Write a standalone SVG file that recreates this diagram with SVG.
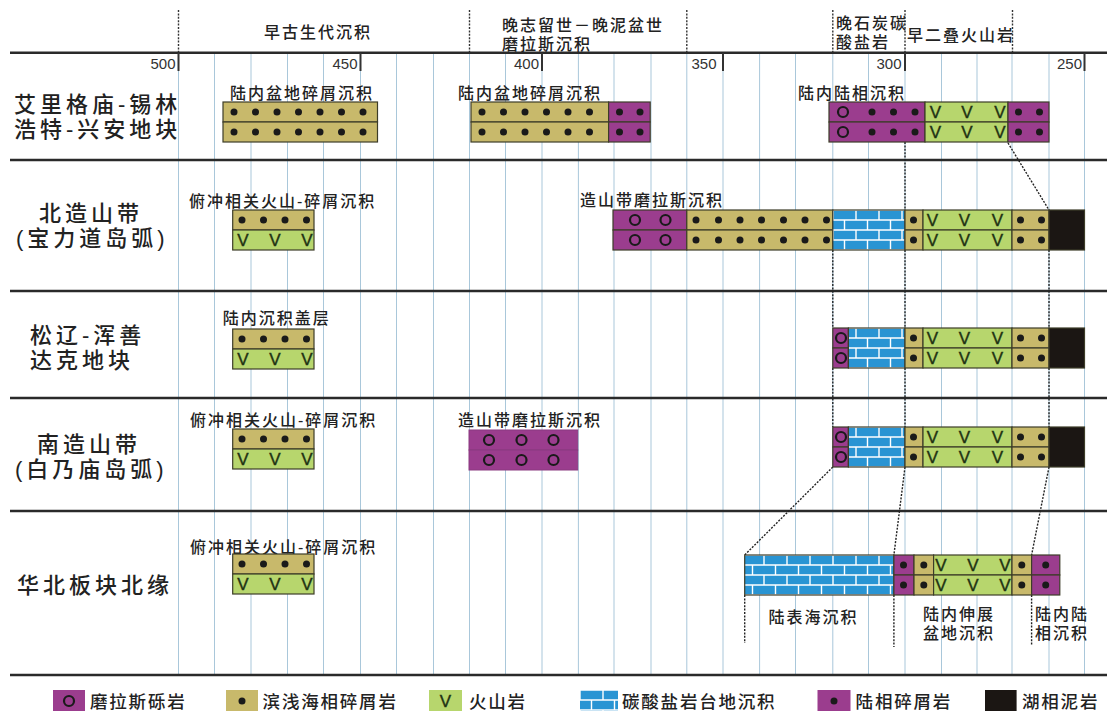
<svg xmlns="http://www.w3.org/2000/svg" xmlns:xlink="http://www.w3.org/1999/xlink" width="1107" height="711" viewBox="0 0 1107 711">
<style>
.grid{stroke:#a9c7da;stroke-width:1}
.sep{stroke:#2a2a2a;stroke-width:2.5}
.hdiv{stroke:#333;stroke-width:1.4;stroke-dasharray:2 1.4;fill:none}
.conn{stroke:#222;stroke-width:1.4;stroke-dasharray:2 1.4;fill:none}
.tick{stroke:#333;stroke-width:2}
.cell{stroke:#3d3d28;stroke-width:1.2}
.p{fill:#9b3d8e}.o{fill:#c8b96b}.g{fill:#b7d66d}.b{fill:url(#brick)}.k{fill:#1b1613}
.v{font-family:"Liberation Sans",Arial,sans-serif;font-size:17px;fill:#1f3313;stroke:#1f3313;stroke-width:0.4;text-anchor:middle}
.lbl{font-family:"Liberation Sans","Noto Sans CJK SC",sans-serif;font-size:16px;font-weight:500;letter-spacing:2px;fill:#222}
.row{font-family:"Liberation Sans","Noto Sans CJK SC",sans-serif;font-size:22px;font-weight:500;letter-spacing:4px;fill:#222}
.leg{font-family:"Liberation Sans","Noto Sans CJK SC",sans-serif;font-size:17.5px;font-weight:500;letter-spacing:1.8px;fill:#222}
.num{font-family:"Liberation Sans",Arial,sans-serif;font-size:15px;fill:#333;text-anchor:end}
</style>
<defs>
<pattern id="brick" patternUnits="userSpaceOnUse" x="0" y="-5" width="23" height="20">
<rect x="0" y="0" width="23" height="20" fill="#2994d3"/>
<path d="M0 5H23M0 15H23M5 5V15M16.5 15V20M16.5 0V5" stroke="#ffffff" stroke-width="1.4" fill="none"/>
</pattern>
<circle id="dot" cx="0" cy="0" r="3.5" fill="#1a1a1a"/>
<circle id="ring" cx="0" cy="0" r="5" fill="none" stroke="#1a1a1a" stroke-width="2.2"/>
</defs>
<rect x="0" y="0" width="1107" height="711" fill="#ffffff"/>

<g id="grid">
<path class="grid" d="M178.5 53V675M214.5 53V675M251 53V675M287.5 53V675M323.5 53V675M360.5 53V675M396.5 53V675M433.5 53V675M469.5 53V675M505.5 53V675M542 53V675M578.4 53V675M614 53V675M651 53V675M686.8 53V675M723 53V675M759.6 53V675M795.5 53V675M832.8 53V675M868.5 53V675M905 53V675M941.5 53V675M977 53V675M1012 53V675M1049 53V675M1084.5 53V675"/>
<path class="hdiv" d="M178.5 10V53M469.5 10V53M686.8 10V53M832.8 10V53M905 10V53M1012.5 10V53"/>
<path class="sep" d="M10 52.7H1107M10 160H1107M10 291H1107M10 398H1107M10 511H1107M10 675H1107"/>
<path class="tick" d="M178.5 53V71M360.5 53V71M542 53V71M723 53V71M905 53V71M1084.5 53V71"/>
<text class="num" x="175.5" y="68.5">500</text>
<text class="num" x="357.5" y="68.5">450</text>
<text class="num" x="539" y="68.5">400</text>
<text class="num" x="716.5" y="68.5">350</text>
<text class="num" x="901.5" y="68.5">300</text>
<text class="num" x="1082" y="68.5">250</text>
</g>

<g id="header">
<text class="lbl" x="264" y="38">早古生代沉积</text>
<text class="lbl" x="502" y="31">晚志留世－晚泥盆世<tspan x="502" dy="19">磨拉斯沉积</tspan></text>
<text class="lbl" x="836" y="29">晚石炭碳<tspan x="836" dy="19">酸盐岩</tspan></text>
<text class="lbl" x="907" y="41">早二叠火山岩</text>
</g>

<g id="row-labels">
<text class="row" x="14" y="112">艾里格庙-锡林<tspan x="14" dy="25">浩特-兴安地块</tspan></text>
<text class="row" x="39" y="221">北造山带<tspan x="16" dy="25">(宝力道岛弧)</tspan></text>
<text class="row" x="30" y="343">松辽-浑善<tspan x="30" dy="25">达克地块</tspan></text>
<text class="row" x="37" y="452">南造山带<tspan x="15" dy="25">(白乃庙岛弧)</tspan></text>
<text class="row" x="17" y="593">华北板块北缘</text>
</g>

<g id="connectors">
<path class="conn" d="M1008 143L1049 210M1049 250V328M1049 368V427M1049 467L1031.6 555M1031.6 595V646"/>
<path class="conn" d="M905 142V210M905 250V328M905 368V427M905 467L893.9 555M893.9 595V647"/>
<path class="conn" d="M832.8 250V328M832.8 368V427M832.8 467L744.7 555M744.7 595V643"/>
</g>

<!-- Row 1 -->
<g id="r1-box1">
<text class="lbl" x="230" y="99">陆内盆地碎屑沉积</text>
<g transform="translate(0,102)">
<rect class="o cell" x="223" y="0" width="154.5" height="20"/><rect class="o cell" x="223" y="20" width="154.5" height="20"/>
<use xlink:href="#dot" x="234" y="10"/><use xlink:href="#dot" x="255.5" y="10"/><use xlink:href="#dot" x="277" y="10"/><use xlink:href="#dot" x="298.5" y="10"/><use xlink:href="#dot" x="320" y="10"/><use xlink:href="#dot" x="341.5" y="10"/><use xlink:href="#dot" x="363" y="10"/>
<use xlink:href="#dot" x="234" y="30"/><use xlink:href="#dot" x="255.5" y="30"/><use xlink:href="#dot" x="277" y="30"/><use xlink:href="#dot" x="298.5" y="30"/><use xlink:href="#dot" x="320" y="30"/><use xlink:href="#dot" x="341.5" y="30"/><use xlink:href="#dot" x="363" y="30"/>
</g>
</g>
<g id="r1-box2">
<text class="lbl" x="458" y="99">陆内盆地碎屑沉积</text>
<g transform="translate(0,102)">
<rect class="o cell" x="471" y="0" width="137.6" height="20"/><rect class="o cell" x="471" y="20" width="137.6" height="20"/>
<rect class="p cell" x="608.6" y="0" width="41.6" height="20"/><rect class="p cell" x="608.6" y="20" width="41.6" height="20"/>
<use xlink:href="#dot" x="482" y="10"/><use xlink:href="#dot" x="503.5" y="10"/><use xlink:href="#dot" x="525" y="10"/><use xlink:href="#dot" x="546.5" y="10"/><use xlink:href="#dot" x="568" y="10"/><use xlink:href="#dot" x="589.5" y="10"/>
<use xlink:href="#dot" x="482" y="30"/><use xlink:href="#dot" x="503.5" y="30"/><use xlink:href="#dot" x="525" y="30"/><use xlink:href="#dot" x="546.5" y="30"/><use xlink:href="#dot" x="568" y="30"/><use xlink:href="#dot" x="589.5" y="30"/>
<use xlink:href="#dot" x="619.5" y="10"/><use xlink:href="#dot" x="640" y="10"/><use xlink:href="#dot" x="619.5" y="30"/><use xlink:href="#dot" x="640" y="30"/>
</g>
</g>
<g id="r1-box3">
<text class="lbl" x="798" y="99">陆内陆相沉积</text>
<g transform="translate(0,102)">
<rect class="p cell" x="829" y="0" width="96" height="20"/><rect class="p cell" x="829" y="20" width="96" height="20"/>
<rect class="g cell" x="925" y="0" width="83" height="20"/><rect class="g cell" x="925" y="20" width="83" height="20"/>
<rect class="p cell" x="1008" y="0" width="41" height="20"/><rect class="p cell" x="1008" y="20" width="41" height="20"/>
<use xlink:href="#ring" x="843" y="10"/><use xlink:href="#ring" x="843" y="30"/>
<use xlink:href="#dot" x="872" y="10"/><use xlink:href="#dot" x="893.5" y="10"/><use xlink:href="#dot" x="915" y="10"/>
<use xlink:href="#dot" x="872" y="30"/><use xlink:href="#dot" x="893.5" y="30"/><use xlink:href="#dot" x="915" y="30"/>
<text class="v" x="935.5" y="16">V</text><text class="v" x="967" y="16">V</text><text class="v" x="1000" y="16">V</text>
<text class="v" x="935.5" y="36">V</text><text class="v" x="967" y="36">V</text><text class="v" x="1000" y="36">V</text>
<use xlink:href="#dot" x="1018.5" y="10"/><use xlink:href="#dot" x="1039.5" y="10"/><use xlink:href="#dot" x="1018.5" y="30"/><use xlink:href="#dot" x="1039.5" y="30"/>
</g>
</g>

<!-- Row 2 -->
<g id="r2-small">
<text class="lbl" x="189" y="207">俯冲相关火山-碎屑沉积</text>
<g transform="translate(0,210)">
<rect class="o cell" x="232.7" y="0" width="81.3" height="20"/><rect class="g cell" x="232.7" y="20" width="81.3" height="20"/>
<use xlink:href="#dot" x="242" y="10"/><use xlink:href="#dot" x="263.5" y="10"/><use xlink:href="#dot" x="285" y="10"/><use xlink:href="#dot" x="306.5" y="10"/>
<text class="v" x="243" y="36">V</text><text class="v" x="275" y="36">V</text><text class="v" x="307" y="36">V</text>
</g>
</g>
<g id="r2-bar">
<text class="lbl" x="580" y="206">造山带磨拉斯沉积</text>
<g transform="translate(0,210)">
<rect class="p cell" x="613" y="0" width="73.8" height="20"/><rect class="p cell" x="613" y="20" width="73.8" height="20"/>
<rect class="o cell" x="686.8" y="0" width="146" height="20"/><rect class="o cell" x="686.8" y="20" width="146" height="20"/>
<rect class="b cell" x="832.8" y="0" width="72.2" height="40"/>
<rect class="o cell" x="905" y="0" width="18" height="20"/><rect class="o cell" x="905" y="20" width="18" height="20"/>
<rect class="g cell" x="923" y="0" width="89" height="20"/><rect class="g cell" x="923" y="20" width="89" height="20"/>
<rect class="o cell" x="1012" y="0" width="37" height="20"/><rect class="o cell" x="1012" y="20" width="37" height="20"/>
<rect class="k cell" x="1049" y="0" width="35.5" height="40"/>
<use xlink:href="#ring" x="635" y="10"/><use xlink:href="#ring" x="665.5" y="10"/><use xlink:href="#ring" x="635" y="30"/><use xlink:href="#ring" x="665.5" y="30"/>
<use xlink:href="#dot" x="696" y="10"/><use xlink:href="#dot" x="718.5" y="10"/><use xlink:href="#dot" x="740" y="10"/><use xlink:href="#dot" x="761.5" y="10"/><use xlink:href="#dot" x="783.5" y="10"/><use xlink:href="#dot" x="805" y="10"/><use xlink:href="#dot" x="826.5" y="10"/>
<use xlink:href="#dot" x="696" y="30"/><use xlink:href="#dot" x="718.5" y="30"/><use xlink:href="#dot" x="740" y="30"/><use xlink:href="#dot" x="761.5" y="30"/><use xlink:href="#dot" x="783.5" y="30"/><use xlink:href="#dot" x="805" y="30"/><use xlink:href="#dot" x="826.5" y="30"/>
<use xlink:href="#dot" x="913.5" y="10"/><use xlink:href="#dot" x="913.5" y="30"/>
<text class="v" x="932.5" y="16">V</text><text class="v" x="964.5" y="16">V</text><text class="v" x="997.5" y="16">V</text>
<text class="v" x="932.5" y="36">V</text><text class="v" x="964.5" y="36">V</text><text class="v" x="997.5" y="36">V</text>
<use xlink:href="#dot" x="1020.5" y="10"/><use xlink:href="#dot" x="1041.5" y="10"/><use xlink:href="#dot" x="1020.5" y="30"/><use xlink:href="#dot" x="1041.5" y="30"/>
</g>
</g>

<!-- Row 3 -->
<g id="r3-small">
<text class="lbl" x="222.7" y="324">陆内沉积盖层</text>
<g transform="translate(0,329)">
<rect class="o cell" x="232.7" y="0" width="81.3" height="20"/><rect class="g cell" x="232.7" y="20" width="81.3" height="20"/>
<use xlink:href="#dot" x="242" y="10"/><use xlink:href="#dot" x="263.5" y="10"/><use xlink:href="#dot" x="285" y="10"/><use xlink:href="#dot" x="306.5" y="10"/>
<text class="v" x="243" y="36">V</text><text class="v" x="275" y="36">V</text><text class="v" x="307" y="36">V</text>
</g>
</g>
<g id="r3-bar">
<g transform="translate(0,328)">
<rect class="p cell" x="832.8" y="0" width="15.6" height="20"/><rect class="p cell" x="832.8" y="20" width="15.6" height="20"/>
<rect class="b cell" x="848.4" y="0" width="56.6" height="40"/>
<rect class="o cell" x="905" y="0" width="18" height="20"/><rect class="o cell" x="905" y="20" width="18" height="20"/>
<rect class="g cell" x="923" y="0" width="89" height="20"/><rect class="g cell" x="923" y="20" width="89" height="20"/>
<rect class="o cell" x="1012" y="0" width="37" height="20"/><rect class="o cell" x="1012" y="20" width="37" height="20"/>
<rect class="k cell" x="1049" y="0" width="35.5" height="40"/>
<use xlink:href="#ring" x="841" y="10"/><use xlink:href="#ring" x="841" y="30"/>
<use xlink:href="#dot" x="913.5" y="10"/><use xlink:href="#dot" x="913.5" y="30"/>
<text class="v" x="932.5" y="16">V</text><text class="v" x="964.5" y="16">V</text><text class="v" x="997.5" y="16">V</text>
<text class="v" x="932.5" y="36">V</text><text class="v" x="964.5" y="36">V</text><text class="v" x="997.5" y="36">V</text>
<use xlink:href="#dot" x="1020.5" y="10"/><use xlink:href="#dot" x="1041.5" y="10"/><use xlink:href="#dot" x="1020.5" y="30"/><use xlink:href="#dot" x="1041.5" y="30"/>
</g>
</g>

<!-- Row 4 -->
<g id="r4-small">
<text class="lbl" x="190" y="426">俯冲相关火山-碎屑沉积</text>
<g transform="translate(0,429)">
<rect class="o cell" x="232.7" y="0" width="81.3" height="20"/><rect class="g cell" x="232.7" y="20" width="81.3" height="20"/>
<use xlink:href="#dot" x="242" y="10"/><use xlink:href="#dot" x="263.5" y="10"/><use xlink:href="#dot" x="285" y="10"/><use xlink:href="#dot" x="306.5" y="10"/>
<text class="v" x="243" y="36">V</text><text class="v" x="275" y="36">V</text><text class="v" x="307" y="36">V</text>
</g>
</g>
<g id="r4-molasse">
<text class="lbl" x="458" y="426">造山带磨拉斯沉积</text>
<g transform="translate(0,430)">
<rect class="p" x="469" y="0" width="108.7" height="20" stroke="#8a3a80" stroke-width="1"/><rect class="p" x="469" y="20" width="108.7" height="20" stroke="#8a3a80" stroke-width="1"/>
<use xlink:href="#ring" x="489" y="10"/><use xlink:href="#ring" x="521.5" y="10"/><use xlink:href="#ring" x="553.5" y="10"/>
<use xlink:href="#ring" x="489" y="30"/><use xlink:href="#ring" x="521.5" y="30"/><use xlink:href="#ring" x="553.5" y="30"/>
</g>
</g>
<g id="r4-bar">
<g transform="translate(0,427)">
<rect class="p cell" x="832.8" y="0" width="15.6" height="20"/><rect class="p cell" x="832.8" y="20" width="15.6" height="20"/>
<rect class="b cell" x="848.4" y="0" width="56.6" height="40"/>
<rect class="o cell" x="905" y="0" width="18" height="20"/><rect class="o cell" x="905" y="20" width="18" height="20"/>
<rect class="g cell" x="923" y="0" width="89" height="20"/><rect class="g cell" x="923" y="20" width="89" height="20"/>
<rect class="o cell" x="1012" y="0" width="37" height="20"/><rect class="o cell" x="1012" y="20" width="37" height="20"/>
<rect class="k cell" x="1049" y="0" width="35.5" height="40"/>
<use xlink:href="#ring" x="841" y="10"/><use xlink:href="#ring" x="841" y="30"/>
<use xlink:href="#dot" x="913.5" y="10"/><use xlink:href="#dot" x="913.5" y="30"/>
<text class="v" x="932.5" y="16">V</text><text class="v" x="964.5" y="16">V</text><text class="v" x="997.5" y="16">V</text>
<text class="v" x="932.5" y="36">V</text><text class="v" x="964.5" y="36">V</text><text class="v" x="997.5" y="36">V</text>
<use xlink:href="#dot" x="1020.5" y="10"/><use xlink:href="#dot" x="1041.5" y="10"/><use xlink:href="#dot" x="1020.5" y="30"/><use xlink:href="#dot" x="1041.5" y="30"/>
</g>
</g>

<!-- Row 5 -->
<g id="r5-small">
<text class="lbl" x="190" y="553">俯冲相关火山-碎屑沉积</text>
<g transform="translate(0,554)">
<rect class="o cell" x="232.7" y="0" width="81.3" height="20"/><rect class="g cell" x="232.7" y="20" width="81.3" height="20"/>
<use xlink:href="#dot" x="242" y="10"/><use xlink:href="#dot" x="263.5" y="10"/><use xlink:href="#dot" x="285" y="10"/><use xlink:href="#dot" x="306.5" y="10"/>
<text class="v" x="243" y="36">V</text><text class="v" x="275" y="36">V</text><text class="v" x="307" y="36">V</text>
</g>
</g>
<g id="r5-bar">
<g transform="translate(0,555)">
<rect class="b cell" x="744.7" y="0" width="149.2" height="40"/>
<rect class="p cell" x="893.9" y="0" width="20.1" height="20"/><rect class="p cell" x="893.9" y="20" width="20.1" height="20"/>
<rect class="o cell" x="914" y="0" width="19.6" height="20"/><rect class="o cell" x="914" y="20" width="19.6" height="20"/>
<rect class="g cell" x="933.6" y="0" width="78.4" height="20"/><rect class="g cell" x="933.6" y="20" width="78.4" height="20"/>
<rect class="o cell" x="1012" y="0" width="19.6" height="20"/><rect class="o cell" x="1012" y="20" width="19.6" height="20"/>
<rect class="p cell" x="1031.6" y="0" width="28.2" height="20"/><rect class="p cell" x="1031.6" y="20" width="28.2" height="20"/>
<use xlink:href="#dot" x="903.5" y="10"/><use xlink:href="#dot" x="903.5" y="30"/>
<use xlink:href="#dot" x="923.8" y="10"/><use xlink:href="#dot" x="923.8" y="30"/>
<text class="v" x="941" y="16">V</text><text class="v" x="973" y="16">V</text><text class="v" x="1005" y="16">V</text>
<text class="v" x="941" y="36">V</text><text class="v" x="973" y="36">V</text><text class="v" x="1005" y="36">V</text>
<use xlink:href="#dot" x="1021.8" y="10"/><use xlink:href="#dot" x="1021.8" y="30"/>
<use xlink:href="#dot" x="1045.7" y="10"/><use xlink:href="#dot" x="1045.7" y="30"/>
</g>
<text class="lbl" x="768.5" y="623">陆表海沉积</text>
<text class="lbl" x="923" y="620">陆内伸展<tspan x="923" dy="19">盆地沉积</tspan></text>
<text class="lbl" x="1035" y="620">陆内陆<tspan x="1035" dy="19">相沉积</tspan></text>
</g>

<!-- Legend -->
<g id="legend">
<g transform="translate(0,690)">
<rect class="p" x="53" y="0" width="32" height="25"/><use xlink:href="#ring" x="69" y="11"/>
<rect class="o" x="226" y="0" width="32" height="25"/><use xlink:href="#dot" x="242" y="11"/>
<rect class="g" x="429" y="0" width="33" height="25"/><text class="v" x="445.5" y="17">V</text>
<rect class="b" x="580" y="0" width="38" height="25"/>
<rect class="p" x="817.5" y="0" width="33" height="25"/><use xlink:href="#dot" x="834" y="11"/>
<rect class="k" x="985" y="0" width="31.6" height="25"/>
</g>
<text class="leg" x="90" y="708">磨拉斯砾岩</text>
<text class="leg" x="262.6" y="708">滨浅海相碎屑岩</text>
<text class="leg" x="469" y="708">火山岩</text>
<text class="leg" x="622" y="708">碳酸盐岩台地沉积</text>
<text class="leg" x="855.6" y="708">陆相碎屑岩</text>
<text class="leg" x="1022" y="708">湖相泥岩</text>
</g>
</svg>
